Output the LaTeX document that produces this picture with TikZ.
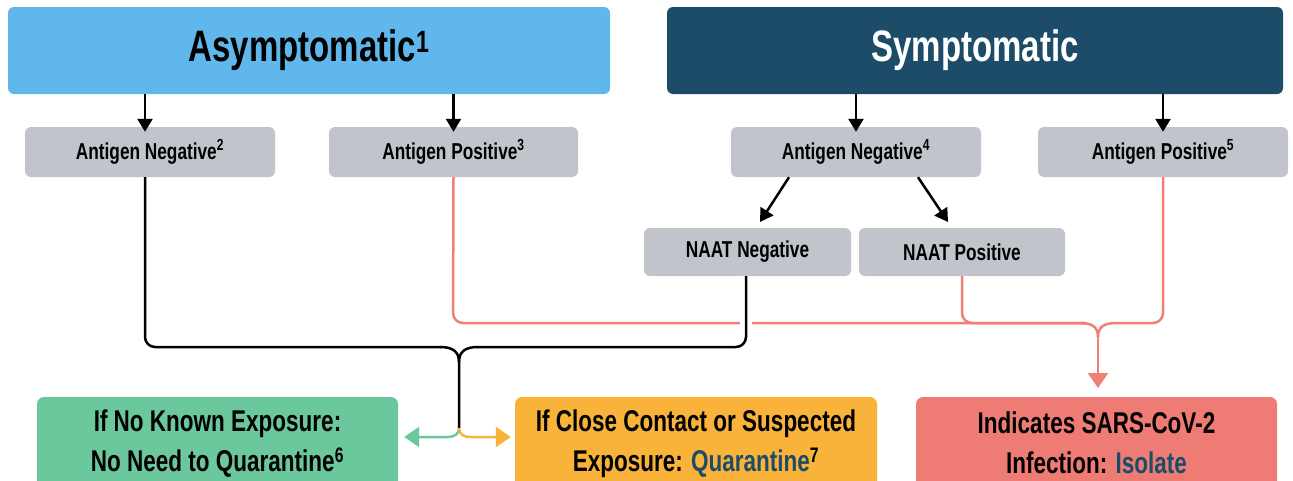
\documentclass[tikz,border=0pt]{standalone}
\usepackage{fontspec}
\setmainfont{Liberation Sans}[FakeStretch=0.75]
\usetikzlibrary{arrows.meta}
\definecolor{asyblue}{HTML}{5FB7EB}
\definecolor{symnavy}{HTML}{1C4C68}
\definecolor{boxgray}{HTML}{C1C5CB}
\definecolor{okgreen}{HTML}{6BC79C}
\definecolor{qorange}{HTML}{F9B33B}
\definecolor{isored}{HTML}{EE7C74}
\definecolor{salmon}{HTML}{EE8078}
\tikzset{
  hdr/.style={rounded corners=6pt, minimum height=87pt, inner sep=0pt, font=\bfseries\fontsize{44}{50}\selectfont},
  graybox/.style={fill=boxgray, rounded corners=6pt, minimum height=50pt, inner sep=0pt, font=\bfseries\fontsize{23}{26}\selectfont},
  outbox/.style={rounded corners=7pt, minimum width=361pt, minimum height=94pt, inner sep=0pt, align=center, font=\bfseries\fontsize{30}{40}\selectfont},
  arr/.style={line width=2.5pt, -{Triangle[width=15pt,length=13pt]}},
  blk/.style={line width=2.5pt, black},
  halo/.style={preaction={draw=white, line width=12pt}},
  sal/.style={line width=2.5pt, salmon},
  bigtip/.style={-{Triangle[width=20pt,length=15pt]}},
}
\begin{document}
\begin{tikzpicture}[x=1pt,y=-1pt]
\useasboundingbox (0,0) rectangle (1293,480);
% headers
\node[hdr, fill=asyblue, minimum width=602pt] (asy) at (309,50.5) {Asymptomatic\textsuperscript{1}};
\node[hdr, fill=symnavy, text=white, minimum width=616pt] (sym) at (975,50.5) {Symptomatic};
% antigen boxes
\node[graybox, minimum width=250pt] (an2) at (150,152) {Antigen Negative\textsuperscript{2}};
\node[graybox, minimum width=249pt] (ap3) at (453.5,152) {Antigen Positive\textsuperscript{3}};
\node[graybox, minimum width=250pt] (an4) at (856,152) {Antigen Negative\textsuperscript{4}};
\node[graybox, minimum width=250pt] (ap5) at (1163,152) {Antigen Positive\textsuperscript{5}};
% NAAT boxes
\node[graybox, minimum width=207pt, minimum height=48pt] (nn) at (747.5,252) {NAAT Negative};
\node[graybox, minimum width=206pt, minimum height=48pt] (np) at (962,252) {NAAT Positive};
% outcome boxes
\node[outbox, fill=okgreen] (grn) at (217.5,444) {\raisebox{3pt}{If No Known Exposure:}\\\raisebox{3pt}{No Need to Quarantine\textsuperscript{6}}};
\node[outbox, fill=qorange, minimum width=362pt] (org) at (696,444) {\raisebox{3pt}{If Close Contact or Suspected}\\\raisebox{3pt}{Exposure: \textcolor{symnavy}{Quarantine}\textsuperscript{7}}};
\node[outbox, fill=isored] (red) at (1096.5,444) {\raisebox{3pt}{Indicates SARS-CoV-2}\\\raisebox{3pt}{Infection: \textcolor{symnavy}{Isolate}}};
% junction coordinates
\coordinate (jb) at (459,428);
\coordinate (jr) at (1098,388);
% header arrows
\draw[arr] (asy.south -| 145,0) -- ([yshift=-5pt]an2.north -| 145,0);
\draw[arr] (asy.south -| ap3) -- ([yshift=-5pt]ap3.north);
\draw[arr] (sym.south -| an4) -- ([yshift=-5pt]an4.north);
\draw[arr] (sym.south -| ap5) -- ([yshift=-5pt]ap5.north);
% NAAT arrows
\draw[arr] (an4.south -| 789,0) -- (760,222);
\draw[arr] (an4.south -| 918,0) -- (948,222);
% salmon paths to isolate
\draw[sal, rounded corners=10pt] (ap3.south) -- (453,323) -- (1086,323);
\draw[sal, rounded corners=10pt] (np.south) -- (962,323) -- (1086,323);
\draw[sal] (1080,323) .. controls (1092,323) and (1098,327) .. (1098,337);
\draw[sal, rounded corners=10pt] (ap5.south) -- (1163,323) -- (1116,323);
\draw[sal] (1116,323) .. controls (1104,323) and (1098,327) .. (1098,337);
\draw[sal, bigtip] (1098,336) -- (jr);
% black paths
\draw[blk, rounded corners=10pt] (an2.south -| 145,0) -- (145,347) -- (441,347);
\draw[blk] (440,347) .. controls (452,347) and (459,351) .. (459,362) -- (jb);
\draw[blk, halo, rounded corners=10pt] (nn.south -| 746,0) -- (746,347) -- (477,347);
\draw[blk] (478,347) .. controls (466,347) and (459,351) .. (459,362);
% green / orange split
\draw[line width=2.5pt, okgreen, bigtip] (jb) .. controls (459,434) and (455,437) .. (447,437) -- ([xshift=6pt]grn.east |- 0,437);
\draw[line width=2.5pt, qorange, bigtip] (jb) .. controls (459,434) and (463,437) .. (471,437) -- ([xshift=-4pt]org.west |- 0,437);
\end{tikzpicture}
\end{document}
